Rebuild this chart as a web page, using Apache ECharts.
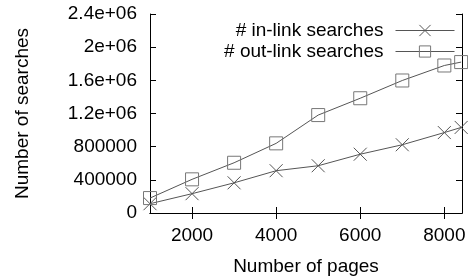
<!DOCTYPE html>
<html><head><meta charset="utf-8">
<script src="https://cdn.jsdelivr.net/npm/echarts@6/dist/echarts.min.js"></script>
<style>html,body{margin:0;padding:0;background:#fff}#c{width:468px;height:278px}</style>
</head><body><div id="c"></div>
<script>
const pages = [1000, 2000, 3000, 4000, 5000, 6000, 7000, 8000, 8400];
const inLink = [112000, 233000, 364000, 510000, 570000, 709000, 823000, 970000, 1032000];
const outLink = [180000, 406000, 606000, 840000, 1181000, 1384000, 1598000, 1779000, 1820000];
const xTicks = [2000, 4000, 6000, 8000];
const yTickLabels = ['0', '400000', '800000', '1.2e+06', '1.6e+06', '2e+06', '2.4e+06'];
const seriesNames = ['# in-link searches', '# out-link searches'];

const FONT = 'Liberation Sans';
const chart = echarts.init(document.getElementById('c'), null, {renderer: 'canvas'});
const axisLine = {show: true, lineStyle: {color: '#000', width: 1}};
const xBase = {type: 'value', min: 1000, max: 8420, splitLine: {show: false}, axisLine: axisLine};
const yBase = {type: 'value', min: 0, max: 2400000, interval: 400000, splitLine: {show: false}, axisLine: axisLine};
const crossPath = 'path://M0,0L10,10M10,0L0,10';
const rectPath = 'path://M0,0L10,0L10,10L0,10Z';
chart.setOption({
  animation: false,
  grid: {left: 150, right: 6, top: 14, bottom: 65, containLabel: false, outerBoundsMode: 'none'},
  textStyle: {fontFamily: FONT},
  legend: {
    orient: 'vertical', right: 8, top: 16, align: 'right',
    itemWidth: 59, itemHeight: 14, itemGap: 2,
    itemStyle: {borderWidth: 1},
    lineStyle: {width: 1},
    textStyle: {fontFamily: FONT, fontSize: 19, color: '#000', lineHeight: 18, padding: [0, 7, 0, 0]},
    data: seriesNames
  },
  xAxis: [
    Object.assign({}, xBase, {
      position: 'bottom',
      axisTick: {show: true, inside: true, length: 6, customValues: xTicks, lineStyle: {color: '#000'}},
      axisLabel: {show: true, customValues: xTicks, fontFamily: FONT, fontSize: 19, color: '#000', margin: 13,
        formatter: function (v) { return String(v); }},
      name: 'Number of pages', nameLocation: 'middle', nameGap: 44,
      nameTextStyle: {fontFamily: FONT, fontSize: 19, color: '#000'}
    }),
    Object.assign({}, xBase, {
      position: 'top',
      axisTick: {show: true, inside: true, length: 6, customValues: xTicks, lineStyle: {color: '#000'}},
      axisLabel: {show: false}
    })
  ],
  yAxis: [
    Object.assign({}, yBase, {
      position: 'left',
      axisTick: {show: true, inside: true, length: 6, lineStyle: {color: '#000'}},
      axisLabel: {show: true, fontFamily: FONT, fontSize: 19, color: '#000', margin: 13,
        formatter: function (v) { return yTickLabels[Math.round(v / 400000)]; }},
      name: 'Number of searches', nameLocation: 'middle', nameGap: 118,
      nameTextStyle: {fontFamily: FONT, fontSize: 19, color: '#000'}
    }),
    Object.assign({}, yBase, {
      position: 'right',
      axisTick: {show: true, inside: true, length: 6, lineStyle: {color: '#000'}},
      axisLabel: {show: false}
    })
  ],
  series: [
    {
      name: seriesNames[0], type: 'line', clip: false,
      data: pages.map((p, i) => [p, inLink[i]]),
      symbol: crossPath, symbolSize: 13, showAllSymbol: true,
      lineStyle: {color: '#555', width: 1},
      itemStyle: {color: 'none', borderColor: '#555', borderWidth: 1}
    },
    {
      name: seriesNames[1], type: 'line', clip: false,
      data: pages.map((p, i) => [p, outLink[i]]),
      symbol: rectPath, symbolSize: 13, showAllSymbol: true,
      lineStyle: {color: '#555', width: 1},
      itemStyle: {color: 'none', borderColor: '#777', borderWidth: 1}
    }
  ]
});
</script></body></html>
